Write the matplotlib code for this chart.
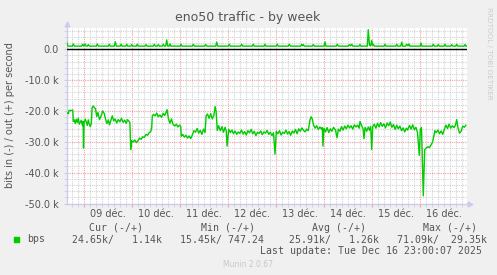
"""Munin style weekly traffic graph for eno50."""

import matplotlib

matplotlib.use("Agg")
import matplotlib.pyplot as plt
from matplotlib.patches import Rectangle
from matplotlib.ticker import FixedLocator, FuncFormatter, MultipleLocator
from matplotlib.transforms import blended_transform_factory

# hours relative to 09 déc. 00:00, values in kbit/s (in is drawn negative)
in_hours = [
    -8.6, -8.0, -7.6, -6.5, -5.8, -5.5, -5.0, -4.5, -4.0, -3.5, -3.0, -2.5,
    -2.0, -1.5, -1.0, -0.6, -0.4, -0.1, 0.5, 1.0, 1.5, 2.0, 2.5, 3.0, 3.5,
    3.9, 4.4, 5.0, 5.6, 6.2, 6.8, 7.6, 8.4, 9.2, 10.0, 10.6, 11.3, 12.0,
    12.6, 13.3, 14.0, 14.7, 15.4, 16.2, 17.0, 17.8, 18.6, 19.4, 20.2, 21.0,
    21.6, 22.3, 22.8, 23.2, 23.6, 24.4, 25.2, 26.0, 26.8, 27.6, 28.4, 29.2,
    30.0, 30.8, 31.6, 32.4, 33.2, 33.7, 34.0, 34.6, 35.4, 36.2, 37.0, 37.8,
    38.6, 39.4, 40.2, 40.8, 41.4, 42.0, 42.8, 43.6, 44.4, 45.2, 46.0, 46.8,
    47.6, 48.2, 48.5, 49.2, 50.0, 50.8, 51.6, 52.4, 53.2, 54.0, 54.8, 55.6,
    56.4, 57.2, 58.0, 58.8, 59.6, 60.4, 60.9, 61.6, 62.4, 63.2, 64.0, 64.8,
    65.4, 65.9, 66.5, 67.2, 68.0, 68.8, 69.6, 70.4, 71.0, 71.4, 72.2, 73.0,
    73.8, 74.6, 75.4, 76.2, 77.0, 77.8, 78.6, 79.4, 80.2, 81.0, 81.8, 82.6,
    83.4, 84.2, 85.0, 85.8, 86.6, 87.4, 88.2, 89.0, 89.8, 90.6, 91.4, 92.2,
    93.0, 93.8, 94.6, 95.35, 96.0, 96.8, 97.6, 98.4, 99.2, 100.0, 100.8,
    101.6, 102.4, 103.2, 104.0, 104.8, 105.6, 106.4, 107.2, 108.0, 108.8,
    109.6, 110.4, 111.2, 112.0, 112.8, 113.4, 114.0, 114.6, 115.4, 116.2,
    117.0, 117.8, 118.6, 119.0, 119.35, 119.8, 120.6, 121.4, 122.2, 123.0,
    123.8, 124.6, 125.6, 126.35, 127.0, 127.8, 128.6, 129.4, 130.2, 131.0,
    131.8, 132.6, 133.4, 134.2, 135.0, 135.8, 136.6, 137.4, 137.85, 138.6,
    139.4, 139.85, 140.4, 141.2, 142.0, 142.6, 143.2, 143.7, 144.2, 145.0,
    145.8, 146.6, 147.4, 148.2, 149.0, 149.8, 150.6, 151.4, 152.2, 153.0,
    153.8, 154.6, 155.4, 156.2, 157.0, 157.8, 158.6, 159.4, 160.2, 161.0,
    161.6, 162.6, 163.4, 164.2, 165.0, 165.8, 166.6, 167.5, 168.0, 168.6,
    169.5, 170.2, 171.0, 171.8, 172.6, 173.4, 174.2, 175.3, 176.0, 176.8,
    177.6, 178.4, 179.2, 180.0, 180.8, 181.6, 182.4, 183.2, 184.0, 184.8,
    185.6, 186.2, 186.8, 187.6, 188.4, 189.2, 190.0, 190.8,
]
in_kbps = [
    -20.6, -20.9, -19.8, -19.9, -19.7, -23.4, -22.9, -24.1, -22.7, -23.7,
    -22.4, -24.3, -23.7, -23.0, -24.6, -23.4, -32.0, -23.8, -22.7, -23.6,
    -24.7, -22.9, -24.3, -25.1, -24.0, -19.0, -18.4, -18.9, -19.3, -21.8,
    -20.5, -22.8, -21.6, -20.0, -20.9, -22.6, -24.1, -22.9, -24.5, -23.1,
    -21.6, -23.2, -22.6, -23.9, -22.8, -23.5, -22.4, -23.7, -23.0, -24.0,
    -22.8, -23.3, -23.8, -32.5, -29.6, -30.1, -29.4, -30.3, -29.7, -28.8,
    -29.2, -28.4, -28.6, -27.6, -27.9, -27.1, -26.7, -25.5, -21.7, -21.1,
    -21.6, -20.7, -21.9, -21.3, -22.1, -20.8, -21.5, -20.6, -19.6, -22.3,
    -24.0, -22.6, -24.4, -24.9, -24.3, -25.2, -24.6, -25.0, -28.2, -27.6,
    -28.5, -27.9, -28.8, -28.1, -29.0, -27.8, -26.4, -26.9, -25.7, -27.2,
    -26.3, -27.6, -25.9, -27.0, -21.6, -21.0, -22.4, -20.9, -22.6, -21.4,
    -18.6, -20.2, -26.3, -24.8, -26.4, -25.1, -26.9, -25.3, -26.6, -31.4,
    -26.0, -27.0, -26.2, -27.4, -26.5, -27.6, -26.8, -27.3, -26.2, -27.5,
    -26.7, -27.8, -26.4, -27.1, -26.0, -27.4, -26.6, -28.0, -26.9, -27.3,
    -26.5, -27.7, -26.8, -27.2, -26.3, -27.6, -26.9, -28.0, -27.1, -34.0,
    -26.6, -27.4, -26.4, -27.8, -26.9, -27.3, -26.2, -27.5, -26.7, -27.9,
    -26.5, -27.2, -26.0, -27.4, -25.8, -26.6, -25.5, -26.3, -26.8, -25.9,
    -26.4, -23.0, -21.9, -22.6, -24.5, -25.6, -24.8, -26.0, -25.2, -25.9,
    -25.4, -31.4, -25.6, -26.8, -25.4, -27.0, -25.8, -26.6, -25.3, -26.2,
    -28.7, -25.9, -26.6, -25.1, -26.2, -24.9, -25.8, -24.6, -25.5, -24.8,
    -25.9, -24.5, -25.2, -24.6, -25.6, -23.4, -24.7, -25.8, -29.0, -25.3,
    -26.6, -25.2, -26.3, -25.0, -32.5, -25.1, -24.3, -25.6, -24.0, -25.2,
    -23.8, -25.0, -24.2, -25.5, -23.9, -24.8, -23.6, -25.3, -24.4, -26.0,
    -24.6, -25.8, -24.9, -26.4, -25.5, -26.8, -25.6, -26.2, -24.7, -25.9,
    -24.5, -26.1, -25.3, -27.0, -34.4, -26.0, -25.4, -47.5, -32.6, -32.0,
    -31.6, -31.9, -31.0, -30.0, -26.4, -27.0, -26.2, -27.4, -26.5, -27.6,
    -26.0, -24.6, -25.7, -24.3, -25.6, -24.8, -25.4, -24.6, -22.8, -25.3,
    -27.2, -26.6, -24.9, -25.3, -24.65,
]

out_hours = [
    -8.8, -8.3, -7.8, -6.0, -5.5, -5.0, -1.3, -0.8, -0.3, 0.35, 0.9, 1.5,
    2.0, 2.5, 6.0, 6.5, 7.0, 12.0, 12.5, 13.0, 15.0, 15.5, 16.0, 17.9, 18.35,
    18.8, 20.7, 21.2, 21.7, 23.2, 23.7, 24.2, 26.0, 26.5, 27.0, 30.4, 30.85,
    31.3, 34.5, 35.0, 35.5, 36.5, 37.0, 37.5, 39.0, 39.5, 40.0, 40.7, 41.2,
    41.7, 42.4, 42.85, 43.3, 47.9, 48.35, 48.8, 54.0, 54.5, 55.0, 60.2, 60.7,
    61.2, 65.7, 66.2, 66.7, 72.0, 72.5, 73.0, 78.2, 78.7, 79.2, 84.0, 84.5,
    85.0, 89.9, 90.35, 90.8, 96.0, 96.5, 97.0, 102.0, 102.5, 103.0, 108.2,
    108.7, 109.1, 109.5, 110.0, 114.0, 114.5, 115.0, 119.9, 120.35, 120.8,
    126.0, 126.5, 127.0, 132.0, 132.5, 133.1, 133.7, 134.2, 137.4, 137.85,
    138.3, 141.5, 142.0, 142.6, 143.2, 143.7, 144.1, 144.5, 145.0, 149.9,
    150.35, 150.8, 155.7, 156.2, 156.7, 158.2, 158.7, 159.2, 160.7, 161.2,
    161.8, 162.35, 162.8, 167.9, 168.35, 168.8, 174.0, 174.5, 175.0, 176.5,
    177.0, 177.5, 179.9, 180.35, 180.8, 183.2, 183.7, 184.2, 185.7, 186.2,
    186.7, 189.9, 190.35, 190.8, 191.4,
]
out_kbps = [
    2.3, 1.1, 1.0, 1.0, 1.7, 1.0, 1.0, 1.6, 1.0, 1.7, 1.0, 1.0,
    1.5, 1.0, 1.0, 1.7, 1.0, 1.0, 1.6, 1.0, 1.0, 2.4, 1.0, 1.0, 1.6,
    1.0, 1.0, 1.6, 1.0, 1.0, 1.5, 1.0, 1.0, 1.6, 1.0, 1.0, 1.5,
    1.0, 1.0, 1.6, 1.0, 1.0, 1.5, 1.0, 1.0, 1.6, 1.0, 1.0, 3.0,
    1.0, 1.0, 1.7, 1.0, 1.0, 1.6, 1.0, 1.0, 1.6, 1.0, 1.0, 1.5,
    1.0, 1.0, 2.3, 1.0, 1.0, 1.6, 1.0, 1.0, 1.6, 1.0, 1.0, 1.6,
    1.0, 1.0, 1.6, 1.0, 1.0, 1.6, 1.0, 1.0, 1.6, 1.0, 1.0,
    1.6, 1.1, 1.5, 1.0, 1.0, 1.5, 1.0, 1.0, 2.4, 1.0,
    1.0, 1.6, 1.0, 1.0, 1.5, 1.1, 1.6, 1.0, 1.0, 1.5,
    1.0, 1.0, 6.3, 1.2, 1.1, 2.8, 1.3, 1.6, 1.0, 1.0,
    1.6, 1.0, 1.0, 1.6, 1.0, 1.0, 2.3, 1.0, 1.0, 1.6,
    1.1, 1.7, 1.0, 1.0, 2.0, 1.0, 1.0, 1.6, 1.0, 1.0,
    1.5, 1.0, 1.0, 1.6, 1.0, 1.0, 1.5, 1.0, 1.0, 1.6,
    1.0, 1.0, 1.5, 1.0, 1.1,
]

day_labels = ["09 déc.", "10 déc.", "11 déc.", "12 déc.",
              "13 déc.", "14 déc.", "15 déc.", "16 déc."]

legend_cols = ["Cur (-/+)", "Min (-/+)", "Avg (-/+)", "Max (-/+)"]
legend_vals = ["24.65k/   1.14k", "15.45k/ 747.24",
               "25.91k/   1.26k", "71.09k/  29.35k"]
last_update = "Last update: Tue Dec 16 23:00:07 2025"

W, H = 497, 275
GREEN = "#00cc00"
TXT = "#555555"
AXC = "#ccccf2"

fig = plt.figure(figsize=(W / 100, H / 100), dpi=100, facecolor="#f0f0f0")
ax = fig.add_axes([66.7 / W, 1 - 203.5 / H, (467 - 66.7) / W, (203.5 - 27.7) / H])
ax.set_facecolor("white")
ax.set_xlim(-8.8, 191.35)
ax.set_ylim(-50, 6.97)

# grid: days / 10k in red, 3h / 2k in grey
ax.xaxis.set_major_locator(MultipleLocator(24))
ax.xaxis.set_minor_locator(MultipleLocator(3))
ax.yaxis.set_major_locator(FixedLocator([-50, -40, -30, -20, -10, 0]))
ax.yaxis.set_minor_locator(MultipleLocator(2))
ax.grid(which="minor", color="#d2d2d2", lw=0.8, ls=(0, (1, 1)))
ax.grid(which="major", color="#eea0a0", lw=0.8, ls=(0, (1, 1)))
ax.set_axisbelow(True)

ax.yaxis.set_major_formatter(FuncFormatter(lambda v, p: "0.0" if v == 0 else f"{v:.1f} k"))
ax.xaxis.set_major_formatter(FuncFormatter(lambda v, p: ""))
ax.tick_params(axis="y", which="both", length=2, color="#cfcfcf", labelsize=7,
               labelcolor=TXT, pad=3.5)
ax.tick_params(axis="x", which="minor", length=2, color="#cfcfcf")
ax.tick_params(axis="x", which="major", length=2.5, color="#eea0a0")

for s in ["top", "right"]:
    ax.spines[s].set_visible(False)
for s in ["left", "bottom"]:
    ax.spines[s].set_color(AXC)
    ax.spines[s].set_linewidth(1)

tr = blended_transform_factory(ax.transData, ax.transAxes)
for i, lab in enumerate(day_labels):
    ax.text(i * 24 + 12, -0.03, lab, transform=tr, ha="center", va="top",
            fontsize=7, color=TXT)

ax.axhline(0, color="black", lw=1, zorder=3)
ax.plot(in_hours, in_kbps, color=GREEN, lw=1, zorder=4)
ax.plot(out_hours, out_kbps, color=GREEN, lw=1, zorder=4)

# axis arrows
ax.plot([-8.8], [8.2], marker="^", ms=3.5, color=AXC, clip_on=False, zorder=5)
ax.plot([192.6], [-50], marker=">", ms=3.5, color=AXC, clip_on=False, zorder=5)

fig.text(248 / W, 1 - 18 / H, "eno50 traffic - by week", ha="center", va="center",
         fontsize=9, color=TXT)
fig.text(10 / W, 1 - 115 / H, "bits in (-) / out (+) per second", rotation=90,
         ha="center", va="center", fontsize=7, color=TXT)
fig.text(488.5 / W, 1 - 53.5 / H, "RRDTOOL / TOBI OETIKER", rotation=270,
         ha="center", va="center", fontsize=5.2, color="#cccccc")

mono = dict(family="DejaVu Sans Mono", fontsize=7.1, color=TXT, va="center")
col_x = [89, 200.7, 312.3, 422.7]
val_x = [72.3, 180, 289.3, 396.7]
for x, c in zip(col_x, legend_cols):
    fig.text(x / W, 1 - 228 / H, c, ha="left", **mono)
for x, v in zip(val_x, legend_vals):
    fig.text(x / W, 1 - 239.5 / H, v, ha="left", **mono)
fig.text(26.7 / W, 1 - 239.5 / H, "bps", ha="left", **mono)
fig.text(482 / W, 1 - 251 / H, last_update, ha="right", **mono)
fig.patches.append(Rectangle((14 / W, 1 - 242 / H), 5.3 / W, 5.3 / H,
                             transform=fig.transFigure, color=GREEN))

fig.text(248 / W, 1 - 264.5 / H, "Munin 2.0.67", ha="center", va="center",
         fontsize=5.5, color="#c8c8c8")

fig.savefig("out.png", dpi=100, facecolor=fig.get_facecolor())
